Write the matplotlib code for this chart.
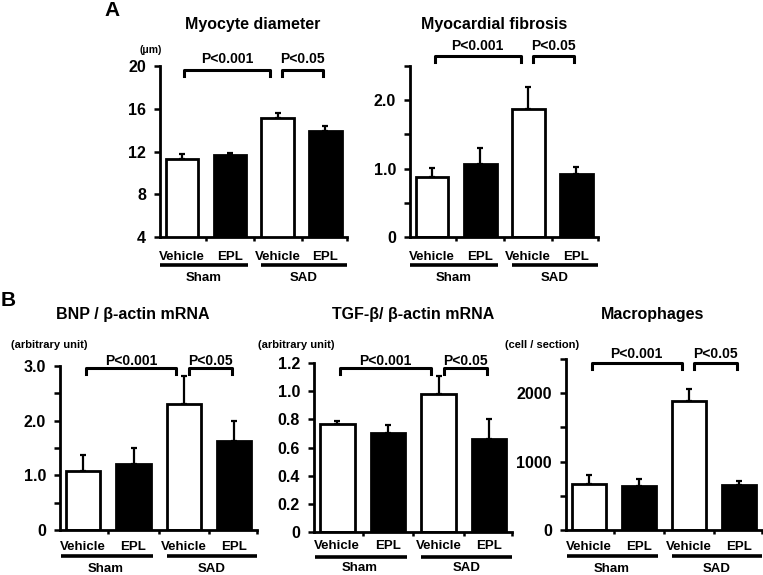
import matplotlib
matplotlib.use("Agg")
import matplotlib.pyplot as plt
from matplotlib.ticker import FixedLocator

plt.rcParams['font.family'] = ['Liberation Sans', 'DejaVu Sans']
plt.rcParams['font.weight'] = 'bold'

# ---------------- data ----------------
bar_labels = ["Vehicle", "EPL", "Vehicle", "EPL"]
group_labels = ["Sham", "SAD"]
bar_fill = ["white", "black", "white", "black"]

diam_mean = [11.3, 11.7, 15.1, 13.9]
diam_sem = [0.5, 0.2, 0.5, 0.5]

fib_mean = [0.87, 1.07, 1.87, 0.92]
fib_sem = [0.14, 0.23, 0.33, 0.10]

bnp_mean = [1.08, 1.20, 2.30, 1.62]
bnp_sem = [0.30, 0.30, 0.52, 0.38]

tgf_mean = [0.77, 0.70, 0.98, 0.66]
tgf_sem = [0.015, 0.06, 0.13, 0.14]

mac_mean = [670, 640, 1880, 660]
mac_sem = [130, 105, 180, 60]

p_labels = ["P<0.001", "P<0.05"]

W, H = 763, 575
fig = plt.figure(figsize=(W / 100, H / 100), dpi=100)


def add_ax(left, top, right, bottom):
    return fig.add_axes([left / W, 1 - bottom / H, (right - left) / W, (bottom - top) / H])


def panel(box, means, sems, ylim, major, minor, ticklabels, bracket_y, plabel_gap,
          below=(18, 28, 41)):
    ax = add_ax(*box)
    hpx = box[3] - box[1]
    x = list(range(len(means)))
    ax.bar(x, means, width=0.68, color=bar_fill, edgecolor="black", linewidth=2.0, zorder=2)
    ax.errorbar(x, means, yerr=[[0] * len(sems), sems], fmt="none", ecolor="black",
                elinewidth=1.6, capsize=2.5, capthick=1.6, zorder=1)
    ax.set_xlim(-0.46, 3.45)
    ax.set_ylim(*ylim)
    for s in ["top", "right"]:
        ax.spines[s].set_visible(False)
    for s in ["left", "bottom"]:
        ax.spines[s].set_linewidth(2.0)
    ax.yaxis.set_major_locator(FixedLocator(major))
    ax.set_yticklabels(ticklabels, fontsize=11.5, fontweight="bold")
    if minor:
        ax.yaxis.set_minor_locator(FixedLocator(minor))
    ax.tick_params(axis="y", which="both", direction="out", length=4, width=1.8, pad=6)
    ax.set_xticks(x)
    ax.set_xticklabels(bar_labels, fontsize=9.5, fontweight="bold")
    ax.tick_params(axis="x", which="major", length=0, pad=below[0] - 8)
    ax.xaxis.set_minor_locator(FixedLocator([0.5, 1.5, 2.5, 3.45]))
    ax.tick_params(axis="x", which="minor", direction="out", length=3, width=1.8)

    tr = ax.get_xaxis_transform()
    yl = -below[1] / hpx
    yg = -below[2] / hpx
    for (a, b), lab, cx in zip([(-0.45, 1.38), (1.66, 3.45)], group_labels, [0.45, 2.55]):
        ax.plot([a, b], [yl, yl], color="black", lw=2.6, transform=tr, clip_on=False,
                solid_capstyle="butt")
        ax.text(cx, yg, lab, transform=tr, ha="center", va="center", fontsize=9.5,
                fontweight="bold")

    # brackets
    yspan = ylim[1] - ylim[0]
    tick = 6 / hpx * yspan
    for (a, b), lab in zip([(0.05, 1.85), (2.1, 2.95)], p_labels):
        ax.plot([a, a, b, b], [bracket_y - tick, bracket_y, bracket_y, bracket_y - tick],
                color="black", lw=2.2, clip_on=False, solid_joinstyle="round")
        ax.text((a + b) / 2, bracket_y + plabel_gap / hpx * yspan, lab, ha="center",
                va="center", fontsize=10, fontweight="bold", clip_on=False)
    return ax


# Panel A
panel((160, 66, 347, 237), diam_mean, diam_sem, (4, 20), [4, 8, 12, 16, 20], None,
      ["4", "8", "12", "16", "20"], 19.6, 11)
panel((410, 66, 598, 237), fib_mean, fib_sem, (0, 2.5), [0, 1.0, 2.0], [0.5, 1.5, 2.5],
      ["0", "1.0", "2.0"], 2.64, 10)

# Panel B
panel((60, 366, 257, 530), bnp_mean, bnp_sem, (0, 3.0), [0, 1.0, 2.0, 3.0], [0.5, 1.5, 2.5],
      ["0", "1.0", "2.0", "3.0"], 2.96, 7, below=(16, 26, 39))
panel((314, 363, 512, 532), tgf_mean, tgf_sem, (0, 1.2), [0, 0.2, 0.4, 0.6, 0.8, 1.0, 1.2], None,
      ["0", "0.2", "0.4", "0.6", "0.8", "1.0", "1.2"], 1.165, 7, below=(14, 25, 36))
panel((566, 359, 762, 530), mac_mean, mac_sem, (0, 2500), [0, 1000, 2000], [500, 1500, 2500],
      ["0", "1000", "2000"], 2438, 9, below=(16, 26, 39))


def ftext(xp, yp, s, **kw):
    fig.text(xp / W, 1 - yp / H, s, **kw)


ftext(112, 11, "A", fontsize=15, fontweight="bold", ha="center", va="center")
ftext(8, 301, "B", fontsize=15, fontweight="bold", ha="center", va="center")

ftext(253, 25, "Myocyte diameter", fontsize=11.5, fontweight="bold", ha="center", va="center")
ftext(494, 25, "Myocardial fibrosis", fontsize=11.5, fontweight="bold", ha="center", va="center")
ftext(133, 314, "BNP / β-actin mRNA", fontsize=11.5, fontweight="bold", ha="center", va="center")
ftext(413, 314, "TGF-β/ β-actin mRNA", fontsize=11.5, fontweight="bold", ha="center", va="center")
ftext(653, 314, "Macrophages", fontsize=11.5, fontweight="bold", ha="center", va="center")

ftext(151, 50, "(μm)", fontsize=7.5, fontweight="bold", ha="center", va="center")
ftext(49, 345, "(arbitrary unit)", fontsize=8, fontweight="bold", ha="center", va="center")
ftext(296, 345, "(arbitrary unit)", fontsize=8, fontweight="bold", ha="center", va="center")
ftext(542, 345, "(cell / section)", fontsize=8, fontweight="bold", ha="center", va="center")

fig.savefig("out.png", dpi=100)
